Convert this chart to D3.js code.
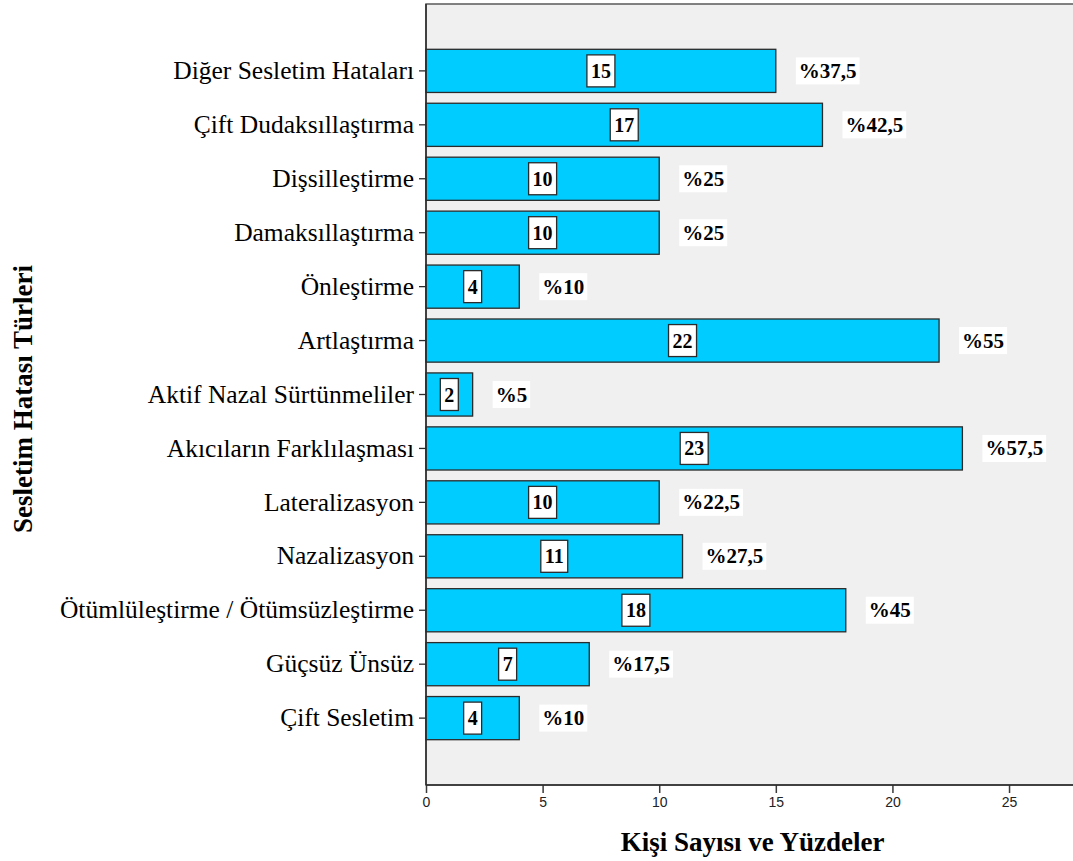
<!DOCTYPE html>
<html>
<head>
<meta charset="utf-8">
<script src="https://cdn.jsdelivr.net/npm/d3@7"></script>
<style>
  html, body { margin: 0; padding: 0; background: #ffffff; }
  svg { display: block; }
</style>
</head>
<body>
<svg id="chart" width="1073" height="861"></svg>
<script>
const categories = [
  "Diğer Sesletim Hataları",
  "Çift Dudaksıllaştırma",
  "Dişsilleştirme",
  "Damaksıllaştırma",
  "Önleştirme",
  "Artlaştırma",
  "Aktif Nazal Sürtünmeliler",
  "Akıcıların Farklılaşması",
  "Lateralizasyon",
  "Nazalizasyon",
  "Ötümlüleştirme / Ötümsüzleştirme",
  "Güçsüz Ünsüz",
  "Çift Sesletim"
];
const counts = [15, 17, 10, 10, 4, 22, 2, 23, 10, 11, 18, 7, 4];
const percentLabels = ["%37,5", "%42,5", "%25", "%25", "%10", "%55", "%5", "%57,5", "%22,5", "%27,5", "%45", "%17,5", "%10"];
const xTicks = [0, 5, 10, 15, 20, 25];
const xTitle = "Kişi Sayısı ve Yüzdeler";
const yTitle = "Sesletim Hatası Türleri";

const svg = d3.select("#chart");
const plot = { left: 426, top: 4, right: 1079, bottom: 785 };

const x = d3.scaleLinear().domain([0, 28]).range([plot.left, plot.right]);
const y = d3.scaleBand().domain(categories).range([plot.top, plot.bottom])
  .paddingInner(0.2).paddingOuter(0.84);

// plot background
svg.append("rect")
  .attr("x", plot.left).attr("y", plot.top)
  .attr("width", plot.right - plot.left).attr("height", plot.bottom - plot.top)
  .attr("fill", "#f0f0f0").attr("stroke", "#5a5a5a").attr("stroke-width", 1.5);

// bars
const rows = categories.map((c, i) => ({ cat: c, v: counts[i], pct: percentLabels[i] }));
svg.append("g").selectAll("rect").data(rows).join("rect")
  .attr("x", x(0))
  .attr("y", d => y(d.cat))
  .attr("width", d => x(d.v) - x(0))
  .attr("height", y.bandwidth())
  .attr("fill", "#00ccff")
  .attr("stroke", "#2b2b2b")
  .attr("stroke-width", 1.3);

// value labels (boxed) at bar middle
const valG = svg.append("g");
rows.forEach(d => {
  const g = valG.append("g");
  const cx = x(d.v / 2);
  const cy = y(d.cat) + y.bandwidth() / 2;
  const t = g.append("text")
    .attr("x", cx).attr("y", cy)
    .attr("text-anchor", "middle").attr("dominant-baseline", "central")
    .attr("font-family", "'Liberation Serif', 'Times New Roman', serif")
    .attr("font-weight", "bold").attr("font-size", 20)
    .attr("fill", "#000")
    .text(d.v);
  const w = t.node().getComputedTextLength() + 8;
  const h = 32;
  g.insert("rect", "text")
    .attr("x", cx - w / 2).attr("y", cy - h / 2)
    .attr("width", w).attr("height", h)
    .attr("fill", "#ffffff").attr("stroke", "#2b2b2b").attr("stroke-width", 1.3);
});

// percentage labels to the right of bars
const pctG = svg.append("g");
rows.forEach(d => {
  const g = pctG.append("g");
  const bx = x(d.v) + 20;
  const cy = y(d.cat) + y.bandwidth() / 2;
  const t = g.append("text")
    .attr("x", bx + 3).attr("y", cy)
    .attr("text-anchor", "start").attr("dominant-baseline", "central")
    .attr("font-family", "'Liberation Serif', 'Times New Roman', serif")
    .attr("font-weight", "bold").attr("font-size", 21)
    .attr("fill", "#000")
    .text(d.pct);
  const w = t.node().getComputedTextLength() + 6;
  g.insert("rect", "text")
    .attr("x", bx).attr("y", cy - 13.5)
    .attr("width", w).attr("height", 27)
    .attr("fill", "#ffffff");
});

// y axis
const yAxis = svg.append("g")
  .attr("transform", `translate(${plot.left},0)`)
  .call(d3.axisLeft(y).tickSize(7).tickPadding(5));
yAxis.select(".domain").remove();
yAxis.selectAll(".tick line").attr("stroke", "#2b2b2b").attr("stroke-width", 1.3);
yAxis.selectAll(".tick text")
  .attr("font-family", "'Liberation Serif', 'Times New Roman', serif")
  .attr("font-size", 25.5).attr("fill", "#000");

// x axis
const xAxis = svg.append("g")
  .attr("transform", `translate(0,${plot.bottom})`)
  .call(d3.axisBottom(x).tickValues(xTicks).tickSize(8).tickPadding(4));
xAxis.select(".domain").remove();
xAxis.selectAll(".tick line").attr("stroke", "#3a3a3a").attr("stroke-width", 1.5);
xAxis.selectAll(".tick text")
  .attr("font-family", "'Liberation Sans', Arial, sans-serif")
  .attr("font-size", 14).attr("fill", "#222");

// axis lines on top
svg.append("line").attr("x1", plot.left).attr("x2", plot.right)
  .attr("y1", plot.bottom).attr("y2", plot.bottom)
  .attr("stroke", "#2b2b2b").attr("stroke-width", 1.5);
svg.append("line").attr("x1", plot.left).attr("x2", plot.left)
  .attr("y1", plot.top).attr("y2", plot.bottom)
  .attr("stroke", "#2b2b2b").attr("stroke-width", 1.5);

// titles
svg.append("text")
  .attr("x", (plot.left + plot.right) / 2).attr("y", 851)
  .attr("text-anchor", "middle")
  .attr("font-family", "'Liberation Serif', 'Times New Roman', serif")
  .attr("font-weight", "bold").attr("font-size", 27).attr("fill", "#000")
  .text(xTitle);

svg.append("text")
  .attr("transform", "translate(32,399) rotate(-90)")
  .attr("text-anchor", "middle")
  .attr("font-family", "'Liberation Serif', 'Times New Roman', serif")
  .attr("font-weight", "bold").attr("font-size", 27).attr("fill", "#000")
  .text(yTitle);
</script>
</body>
</html>
